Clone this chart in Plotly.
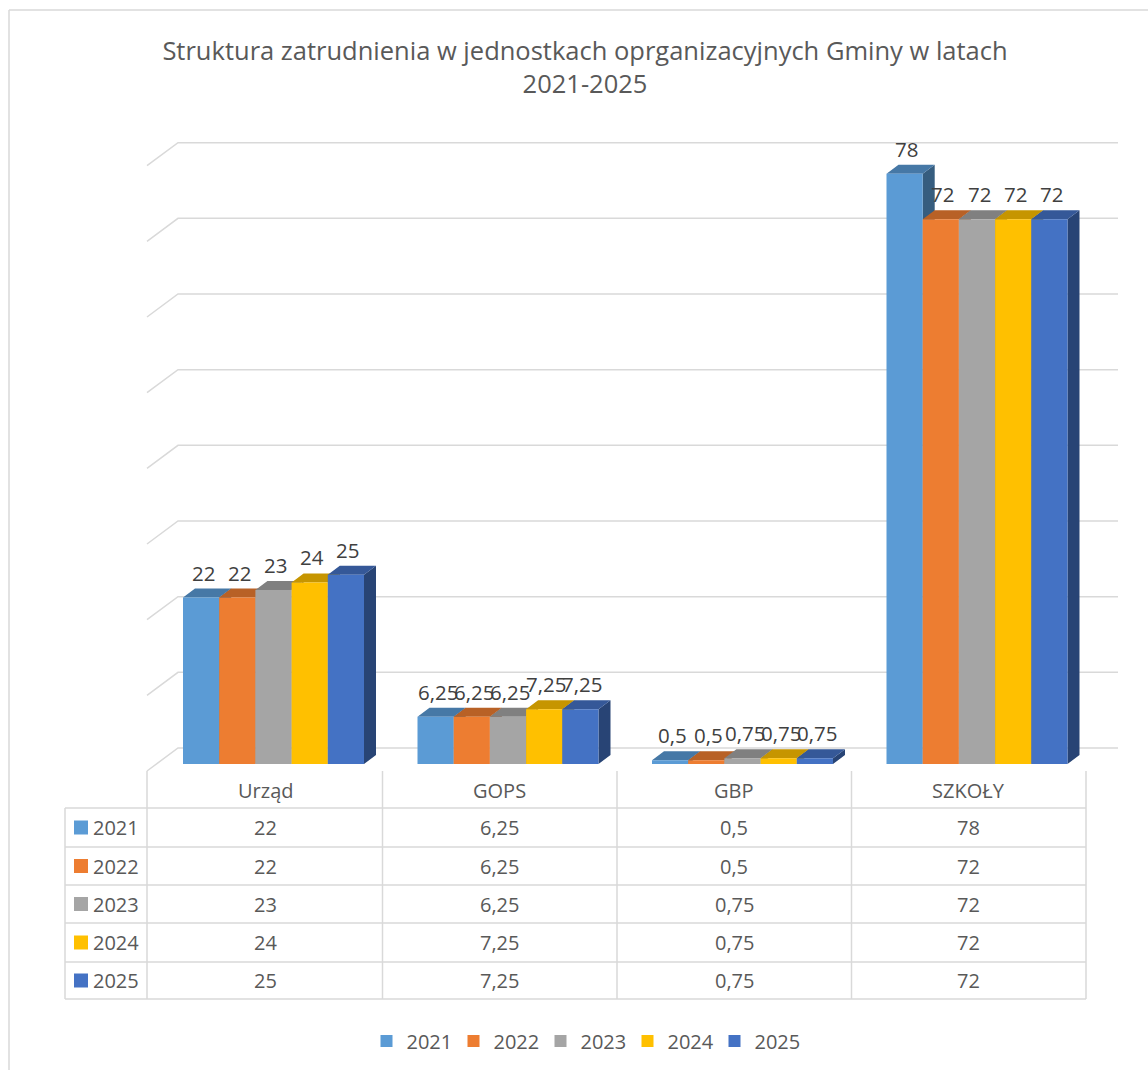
import plotly.graph_objects as go

# ---------------- data ----------------
categories = ["Urząd", "GOPS", "GBP", "SZKOŁY"]
years = ["2021", "2022", "2023", "2024", "2025"]
v2021 = [22, 6.25, 0.5, 78]
v2022 = [22, 6.25, 0.5, 72]
v2023 = [23, 6.25, 0.75, 72]
v2024 = [24, 7.25, 0.75, 72]
v2025 = [25, 7.25, 0.75, 72]
series = [v2021, v2022, v2023, v2024, v2025]
colors = ["#5B9BD5", "#ED7D31", "#A5A5A5", "#FFC000", "#4472C4"]
grid_values = [0, 10, 20, 30, 40, 50, 60, 70, 80]
title_text = "Struktura zatrudnienia w jednostkach oprganizacyjnych Gminy w latach<br>2021-2025"

# ---------------- geometry (pixels) ----------------
W, H = 1148, 1070
X0_PX = 148.0          # left edge of first category band
BAND_PX = 234.5        # width of one category band
Y0_PX = 764.0          # pixel row of value 0 on the bar front plane
UNIT_PX = 7.567        # pixels per value unit
FONT = "Open Sans, Noto Sans, sans-serif"
TXT = "#595959"
LINE = "#D9D9D9"


def xd(px):
    return (px - X0_PX) / BAND_PX


def yd(px):
    return (Y0_PX - px) / UNIT_PX


def xp(px):
    return px / W


def yp(px):
    return 1 - px / H


def shade(hexcol, f):
    h = hexcol.lstrip("#")
    r, g, b = (int(h[i:i + 2], 16) for i in (0, 2, 4))
    return "#%02X%02X%02X" % (int(r * f), int(g * f), int(b * f))


def fmt(v):
    return ("%g" % v).replace(".", ",")


BW = 36.2 / BAND_PX        # bar width in band units
OFF = 35.0 / BAND_PX       # gap before first bar in band
DX = 12.0 / BAND_PX        # depth offset x
DY = 9.0 / UNIT_PX         # depth offset y

fig = go.Figure()

# back wall gridlines with left wall diagonals
gx, gy = [], []
for v in grid_values:
    gx += [xd(147), xd(178), xd(1118), None]
    gy += [yd(771) + v, yd(748) + v, yd(748) + v, None]
fig.add_trace(go.Scatter(x=gx, y=gy, mode="lines", line=dict(color=LINE, width=1.5),
                         hoverinfo="skip", showlegend=False))

# bar left edges
lefts = [[i + OFF + BW * j for i in range(len(categories))] for j in range(len(years))]

# side faces
for j, vals in enumerate(series):
    sx, sy = [], []
    for i, v in enumerate(vals):
        xr = lefts[j][i] + BW
        sx += [xr, xr + DX, xr + DX, xr, xr, None]
        sy += [0, DY, v + DY, v, 0, None]
    fig.add_trace(go.Scatter(x=sx, y=sy, mode="lines", fill="toself",
                             fillcolor=shade(colors[j], 0.6), line=dict(width=0),
                             hoverinfo="skip", showlegend=False))
# top faces
for j, vals in enumerate(series):
    tx, ty = [], []
    for i, v in enumerate(vals):
        xl = lefts[j][i]
        xr = xl + BW
        tx += [xl, xr, xr + DX, xl + DX, xl, None]
        ty += [v, v, v + DY, v + DY, v, None]
    fig.add_trace(go.Scatter(x=tx, y=ty, mode="lines", fill="toself",
                             fillcolor=shade(colors[j], 0.78), line=dict(width=0),
                             hoverinfo="skip", showlegend=False))

# front faces (bars) on an overlaid axis pair so they sit above the faces
for j, vals in enumerate(series):
    fig.add_trace(go.Bar(x=[l + BW / 2 for l in lefts[j]], y=vals, width=BW,
                         name=years[j], marker=dict(color=colors[j], line=dict(width=0)),
                         xaxis="x2", yaxis="y2"))

annotations = []
# data labels
for j, vals in enumerate(series):
    for i, v in enumerate(vals):
        annotations.append(dict(x=lefts[j][i] + BW / 2, y=v, xref="x", yref="y",
                                xanchor="center", yanchor="middle",
                                text=fmt(v), showarrow=False, yshift=25, xshift=2,
                                font=dict(family=FONT, size=20.5, color="#404040")))

# data table
col_edges = [X0_PX + BAND_PX * k for k in range(len(categories) + 1)]
row_lines = [808, 847, 885, 923, 962, 999]
shapes = []
for y in row_lines:
    shapes.append(dict(type="line", xref="paper", yref="paper", x0=xp(65), x1=xp(col_edges[-1]),
                       y0=yp(y), y1=yp(y), line=dict(color=LINE, width=1.5)))
shapes.append(dict(type="line", xref="paper", yref="paper", x0=xp(65), x1=xp(65),
                   y0=yp(808), y1=yp(999), line=dict(color=LINE, width=1.5)))
for k, xe in enumerate(col_edges):
    xx = xe - 1 if k == 0 else xe
    shapes.append(dict(type="line", xref="paper", yref="paper", x0=xp(xx), x1=xp(xx),
                       y0=yp(771), y1=yp(999), line=dict(color=LINE, width=1.5)))
# chart border
shapes.append(dict(type="line", xref="paper", yref="paper", x0=xp(9), x1=1.0, y0=yp(10), y1=yp(10),
                   line=dict(color=LINE, width=1.5)))
shapes.append(dict(type="line", xref="paper", yref="paper", x0=xp(9), x1=xp(9), y0=yp(10), y1=0,
                   line=dict(color=LINE, width=1.5)))

for i, c in enumerate(categories):
    annotations.append(dict(x=i + 0.5, y=yp(790), xref="x", yref="paper", text=c, showarrow=False,
                            xanchor="center", yanchor="middle",
                            font=dict(family=FONT, size=20, color=TXT)))
for j, vals in enumerate(series):
    yc = (row_lines[j] + row_lines[j + 1]) / 2
    shapes.append(dict(type="rect", xref="paper", yref="paper", x0=xp(74), x1=xp(88),
                       y0=yp(yc - 7), y1=yp(yc + 7), fillcolor=colors[j], line=dict(width=0)))
    annotations.append(dict(x=xp(91), y=yp(yc), xref="paper", yref="paper", xanchor="left",
                            yanchor="middle",
                            text=years[j], showarrow=False, font=dict(family=FONT, size=20, color=TXT)))
    for i, v in enumerate(vals):
        annotations.append(dict(x=i + 0.5, y=yp(yc), xref="x", yref="paper", text=fmt(v),
                                xanchor="center", yanchor="middle",
                                showarrow=False, font=dict(family=FONT, size=20, color=TXT)))

xr_ = [xd(0), xd(W)]
yr_ = [yd(H), yd(0)]
fig.update_layout(
    width=W, height=H, autosize=False,
    margin=dict(l=0, r=0, t=0, b=0, pad=0),
    paper_bgcolor="white", plot_bgcolor="white",
    barmode="overlay",
    title=dict(text=title_text, x=585 / W, xanchor="center", y=yp(60), yanchor="middle",
               yref="container", font=dict(family=FONT, size=25.5, color=TXT)),
    xaxis=dict(range=xr_, visible=False, fixedrange=True, domain=[0, 1]),
    yaxis=dict(range=yr_, visible=False, fixedrange=True, domain=[0, 1]),
    xaxis2=dict(range=xr_, visible=False, fixedrange=True, overlaying="x", domain=[0, 1]),
    yaxis2=dict(range=yr_, visible=False, fixedrange=True, overlaying="y", domain=[0, 1]),
    legend=dict(orientation="h", x=584 / W, xanchor="center", y=yp(1041), yanchor="middle",
                font=dict(family=FONT, size=20, color=TXT), bgcolor="rgba(0,0,0,0)",
                traceorder="normal", entrywidth=42, entrywidthmode="pixels"),
    shapes=shapes, annotations=annotations,
)

fig.write_html("out.html", config={"displayModeBar": False},
               post_script="document.body.style.margin='0';")
